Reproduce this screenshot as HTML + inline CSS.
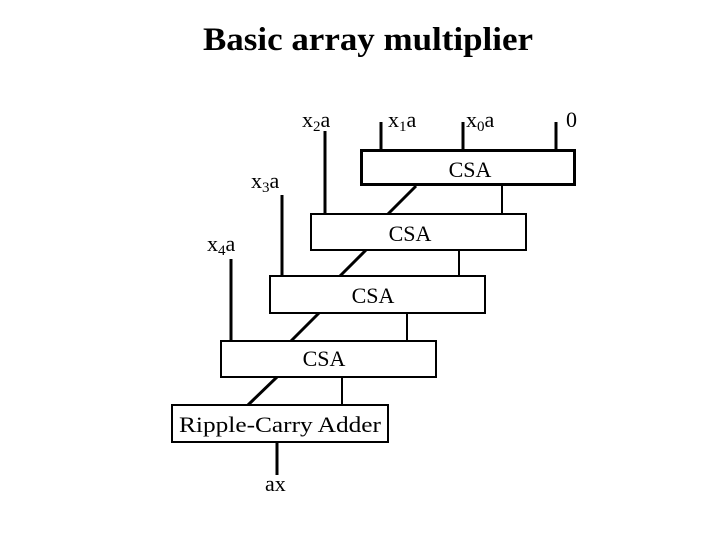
<!DOCTYPE html>
<html><head><style>html,body{margin:0;padding:0;background:#fff;}</style></head>
<body>
<svg width="720" height="540" xmlns="http://www.w3.org/2000/svg" font-family="Liberation Serif, serif">
<text x="368" y="50" font-size="33" font-weight="bold" text-anchor="middle" textLength="330" lengthAdjust="spacingAndGlyphs">Basic array multiplier</text>
<g fill="none" stroke="#000">
<rect x="361.5" y="150.5" width="213" height="34" stroke-width="3"/>
<rect x="311" y="214" width="215" height="36" stroke-width="2"/>
<rect x="270" y="276" width="215" height="37" stroke-width="2"/>
<rect x="221" y="341" width="215" height="36" stroke-width="2"/>
<rect x="172" y="405" width="216" height="37" stroke-width="2"/>
<g stroke-width="3">
<line x1="381" y1="122" x2="381" y2="150"/>
<line x1="463" y1="122" x2="463" y2="150"/>
<line x1="556" y1="122" x2="556" y2="150"/>
<line x1="325" y1="131" x2="325" y2="214"/>
<line x1="282" y1="195" x2="282" y2="276"/>
<line x1="231" y1="259" x2="231" y2="341"/>
<line x1="416" y1="186" x2="388" y2="214"/>
<line x1="366" y1="250" x2="340" y2="276"/>
<line x1="319" y1="313" x2="291" y2="341"/>
<line x1="277" y1="377" x2="248" y2="405"/>
<line x1="277" y1="442" x2="277" y2="475"/>
</g>
<g stroke-width="2">
<line x1="502" y1="186" x2="502" y2="214"/>
<line x1="459" y1="250" x2="459" y2="276"/>
<line x1="407" y1="313" x2="407" y2="341"/>
<line x1="342" y1="377" x2="342" y2="405"/>
</g>
</g>
<g font-size="22" fill="#000">
<text x="302" y="127">x<tspan font-size="15" dy="4">2</tspan><tspan dy="-4">a</tspan></text>
<text x="388" y="127">x<tspan font-size="15" dy="4">1</tspan><tspan dy="-4">a</tspan></text>
<text x="466" y="127">x<tspan font-size="15" dy="4">0</tspan><tspan dy="-4">a</tspan></text>
<text x="566" y="127">0</text>
<text x="251" y="188">x<tspan font-size="15" dy="4">3</tspan><tspan dy="-4">a</tspan></text>
<text x="207" y="251">x<tspan font-size="15" dy="4">4</tspan><tspan dy="-4">a</tspan></text>
<text x="470" y="177" text-anchor="middle">CSA</text>
<text x="410" y="241" text-anchor="middle">CSA</text>
<text x="373" y="303" text-anchor="middle">CSA</text>
<text x="324" y="366" text-anchor="middle">CSA</text>
<text x="179" y="432" textLength="202" lengthAdjust="spacingAndGlyphs">Ripple-Carry Adder</text>
<text x="265" y="491">ax</text>
</g>
</svg>
</body></html>
